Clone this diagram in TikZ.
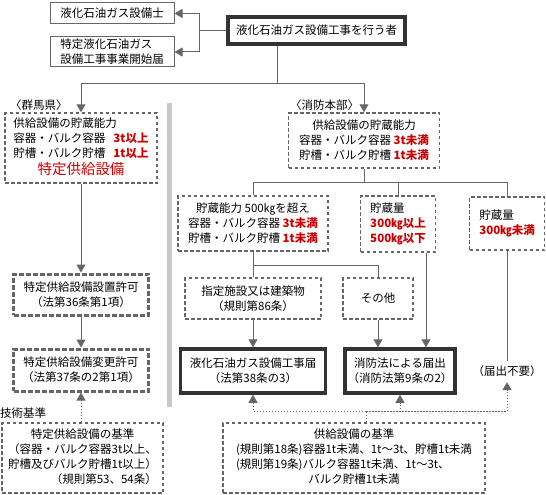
\documentclass[tikz,border=0pt]{standalone}
\usepackage{fontspec}
\newfontfamily\jpfont{Noto Sans CJK JP}
\usetikzlibrary{arrows.meta}
\definecolor{linegray}{HTML}{666666}
\definecolor{framegray}{HTML}{333333}
\definecolor{sepgray}{HTML}{C8C8C8}
\definecolor{notered}{HTML}{CC0000}
\newcommand{\redb}[1]{\textcolor{notered}{\bfseries #1}}

\begin{document}
\begin{tikzpicture}[x=1pt,y=-1pt,>={Triangle[length=8pt,width=9pt]},
  font=\jpfont\fontsize{11.5}{15}\selectfont,
  every node/.style={inner sep=0pt},
  plainbox/.style={draw=linegray,line width=1pt,align=left},
  mainbox/.style={draw=framegray,line width=3.5pt,align=center},
  dashbox/.style={draw=linegray,line width=1.5pt,dash pattern=on 3.5pt off 2.5pt,align=center},
  permitbox/.style={draw=linegray,line width=3pt,dash pattern=on 5pt off 2pt,align=center},
  link/.style={draw=linegray,line width=1pt},
  hint/.style={draw=linegray,line width=1pt,dash pattern=on 1.5pt off 1.5pt}]
\useasboundingbox (0,0) rectangle (546,495);
% separator
\fill[sepgray] (167,103) rectangle (172,407);
% top
\node[plainbox,minimum width=124pt,minimum height=21pt] (shi) at (112,13.5) {液化石油ガス設備士};
\node[plainbox,minimum width=124pt,minimum height=30pt] (kaishi) at (112,52) {特定液化石油ガス\\設備工事事業開始届};
\node[mainbox,minimum width=177pt,minimum height=27pt] (doer) at (316.5,30.5) {液化石油ガス設備工事を行う者};
\coordinate (fork) at (199,30.5);
\draw[link] (doer.west) -- (fork);
\draw[link,->] (fork) |- (shi.east);
\draw[link,->] (fork) |- (kaishi.east);
% left: Gunma
\node[anchor=west] (gunmalabel) at (10,105) {〈群馬県〉};
\node[dashbox,minimum width=152pt,minimum height=70pt] (gunma) at (81,148) {%
  \begin{tabular}{@{}l@{\hspace{8pt}}l@{}}
  \multicolumn{2}{@{}l@{}}{供給設備の貯蔵能力}\\
  容器・バルク容器 & \redb{3t以上}\\
  貯槽・バルク貯槽 & \redb{1t以上}\\
  \multicolumn{2}{@{}c@{}}{\color{notered}\fontsize{14.5}{17}\selectfont 特定供給設備}
  \end{tabular}};
\node[permitbox,minimum width=135pt,minimum height=41pt] (permit1) at (81,294.5) {特定供給設備設置許可\\（法第36条第1項）};
\node[permitbox,minimum width=135pt,minimum height=42pt] (permit2) at (81,370) {特定供給設備変更許可\\（法第37条の2第1項）};
\node[anchor=west] (gijutsu) at (0,413) {技術基準};
\node[dashbox,minimum width=161pt,minimum height=70pt] (kijun1) at (82.5,458) {%
  \begin{tabular}{@{}l@{}}
  \multicolumn{1}{@{}c@{}}{特定供給設備の基準}\\
  （容器・バルク容器3t以上、\\
  貯槽及びバルク貯槽1t以上）\\
  \multicolumn{1}{@{}r@{}}{（規則第53、54条）}
  \end{tabular}};
% right: fire department
\node[anchor=west] (shobolabel) at (290,105) {〈消防本部〉};
\node[dashbox,minimum width=151pt,minimum height=55pt] (shobo) at (364,140.5) {供給設備の貯蔵能力\\容器・バルク容器 \redb{3t未満}\\貯槽・バルク貯槽 \redb{1t未満}};
\node[dashbox,minimum width=150pt,minimum height=55pt] (cap500) at (253,223.5) {貯蔵能力 500㎏を超え\\容器・バルク容器 \redb{3t未満}\\貯槽・バルク貯槽 \redb{1t未満}};
\node[dashbox,minimum width=75pt,minimum height=56pt,align=left] (mid) at (398,224) {貯蔵量\hspace{3em}\\\redb{300㎏以上}\\\redb{500㎏以下}};
\node[dashbox,minimum width=75pt,minimum height=53pt,align=left] (small) at (507,223.5) {貯蔵量\hspace{3em}\\\redb{300㎏未満}};
\node[dashbox,minimum width=136pt,minimum height=41pt] (shitei) at (253,298.5) {指定施設又は建築物\\（規則第86条）};
\node[dashbox,minimum width=70pt,minimum height=41pt] (sonota) at (378,298.5) {その他};
\node[mainbox,minimum width=145pt,minimum height=44pt] (todoke1) at (253,371) {液化石油ガス設備工事届\\（法第38条の3）};
\node[mainbox,minimum width=110pt,minimum height=44pt] (todoke2) at (400,371) {消防法による届出\\（消防法第9条の2）};
\node[minimum height=21pt] (fuyou) at (507,371.5) {（届出不要）};
\node[dashbox,minimum width=262pt,minimum height=70pt] (kijun2) at (354,458) {%
  \begin{tabular}{@{}l@{}}
  \multicolumn{1}{@{}c@{}}{供給設備の基準}\\
  (規則第18条)容器1t未満、1t〜3t、貯槽1t未満\\
  (規則第19条)バルク容器1t未満、1t〜3t、\\
  \multicolumn{1}{@{}c@{}}{バルク貯槽1t未満}
  \end{tabular}};
% connectors
\coordinate (split) at (277,83);
\draw[link] (doer.south -| split) -- (split);
\draw[link,->] (split) -| (gunma.north);
\draw[link,->] (split) -| (shobo.north);
\draw[link,->] (gunma.south) -- (permit1.north);
\draw[link,->] (permit1.south) -- (permit2.north);
\draw[hint,->] (permit2.south |- kijun1.north) -- (permit2.south);
\coordinate (split2) at (364,182);
\draw[link] (shobo.south) -- (split2) -| (cap500.north);
\draw[link] (split2) -| (mid.north);
\draw[link] (split2) -| (small.north);
\draw[link] (cap500.south) -- ++(0,14) coordinate (split3) -| (sonota.north);
\draw[link] (split3) -- (shitei.north);
\draw[link,->] (shitei.south) -- (todoke1.north);
\draw[link,->] (sonota.south) -- (sonota.south |- todoke2.north);
\draw[link,->] ([xshift=28pt]mid.south) -- ([xshift=28pt]mid.south |- todoke2.north);
\draw[link] (small.south) -- (fuyou.north);
\draw[hint] ([xshift=12pt]kijun2.north) -- ++(0,-11) coordinate (split4);
\draw[hint,->] (split4) -| (todoke1.south);
\draw[hint,->] (split4) -| (todoke2.south);
\draw[hint,->] (split4) -| (fuyou.south);
\end{tikzpicture}
\end{document}
